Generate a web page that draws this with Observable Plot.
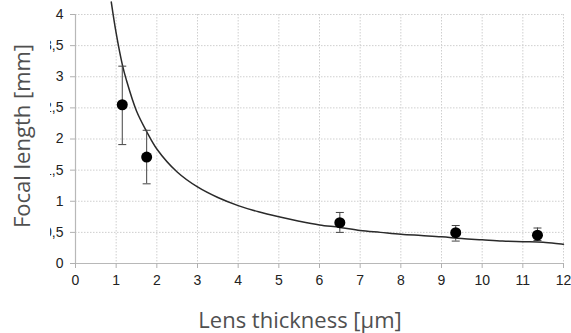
<!DOCTYPE html>
<html>
<head>
<meta charset="utf-8">
<script src="https://cdn.jsdelivr.net/npm/d3@7"></script>
<script src="https://cdn.jsdelivr.net/npm/@observablehq/plot@0.6"></script>
<style>
  html, body { margin: 0; padding: 0; background: #fff; }
  #wrap { position: relative; width: 571px; height: 333px; overflow: hidden; }
  #ytitle { position: absolute; left: 0; top: 0; width: 50px; height: 272px; background: #fff; }
  #ytitle span { position: absolute; left: 21px; top: 136px; transform: translate(-50%, -50%) rotate(-90deg);
    white-space: nowrap; font-family: "Open Sans", sans-serif; font-size: 22px; color: #505050; }
  #xtitle { position: absolute; left: 300px; top: 304px; transform: translateX(-50%);
    white-space: nowrap; font-family: "Open Sans", sans-serif; font-size: 22px; color: #505050; }
</style>
</head>
<body>
<div id="wrap">
  <div id="chart"></div>
  <div id="ytitle"><span>Focal length [mm]</span></div>
  <div id="xtitle">Lens thickness [µm]</div>
</div>
<script>
// Measured points
const pointX   = [1.15, 1.75, 6.5, 9.35, 11.36];
const pointY   = [2.55, 1.71, 0.655, 0.495, 0.455];
const errLow   = [1.91, 1.28, 0.50, 0.36, 0.37];
const errHigh  = [3.17, 2.14, 0.82, 0.61, 0.57];

// Fitted curve
const curveX = [0.88, 1.0, 1.15, 1.25, 1.5, 1.75, 2.0, 2.5, 3.0, 3.5, 4.0, 4.5, 5.0, 5.5, 6.0, 6.5, 7.0, 7.5, 8.0, 8.5, 9.0, 9.5, 10.0, 10.5, 11.0, 11.5, 12.0];
const curveY = [4.2, 3.7, 3.2, 2.95, 2.45, 2.12, 1.84, 1.47, 1.23, 1.06, 0.93, 0.83, 0.75, 0.68, 0.62, 0.58, 0.53, 0.50, 0.47, 0.45, 0.43, 0.40, 0.38, 0.36, 0.35, 0.34, 0.31];

const xTicks = [0,1,2,3,4,5,6,7,8,9,10,11,12];
const yTicks = [0,0.5,1,1.5,2,2.5,3,3.5,4];

const points = pointX.map((x, i) => ({x, y: pointY[i], lo: errLow[i], hi: errHigh[i]}));
const curve = curveX.map((x, i) => ({x, y: curveY[i]}));

// horizontal cap symbol for error bars
const capSymbol = {
  draw(context, size) {
    const r = Math.sqrt(size / Math.PI);
    context.moveTo(-r, 0);
    context.lineTo(r, 0);
  }
};

const chart = Plot.plot({
  width: 571,
  height: 333,
  marginLeft: 75,
  marginRight: 8,
  marginTop: 14,
  marginBottom: 70,
  style: {fontFamily: "Liberation Sans, Arial, sans-serif", fontSize: "14px", color: "#222", background: "#fff"},
  x: {type: "linear", domain: [0, 12]},
  y: {type: "linear", domain: [0, 4]},
  marks: [
    Plot.gridX(xTicks, {stroke: "#cfcfcf", strokeOpacity: 1, strokeDasharray: "1.5,1.5"}),
    Plot.gridY(yTicks, {stroke: "#cfcfcf", strokeOpacity: 1, strokeDasharray: "1.5,1.5"}),
    Plot.ruleY([0], {stroke: "#b8b8b8", strokeWidth: 1.2}),
    Plot.ruleX([0], {stroke: "#b8b8b8", strokeWidth: 1.2}),
    Plot.axisX(xTicks, {tickSize: 5, tickPadding: 7, stroke: "#b0b0b0", label: null, fill: "#222", fontSize: 14}),
    Plot.axisY(yTicks, {tickSize: 5, tickPadding: 7, stroke: "#b0b0b0", label: null, fill: "#222", fontSize: 14,
      tickFormat: d => String(d).replace(".", ",")}),
    Plot.line(curve, {x: "x", y: "y", curve: "catmull-rom", stroke: "#2a2a2a", strokeWidth: 1.5, clip: false}),
    Plot.ruleX(points, {x: "x", y1: "lo", y2: "hi", stroke: "#444", strokeWidth: 1}),
    Plot.dot(points, {x: "x", y: "hi", symbol: capSymbol, r: 4, stroke: "#444", strokeWidth: 1, fill: "none"}),
    Plot.dot(points, {x: "x", y: "lo", symbol: capSymbol, r: 4, stroke: "#444", strokeWidth: 1, fill: "none"}),
    Plot.dot(points, {x: "x", y: "y", r: 5.5, fill: "#000", stroke: "none"})
  ]
});

document.getElementById("chart").appendChild(chart);
</script>
</body>
</html>
